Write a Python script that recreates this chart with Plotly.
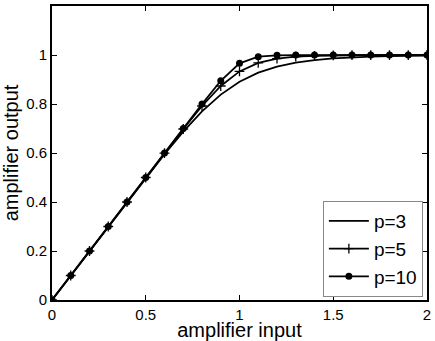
import plotly.graph_objects as go

x_input = [0.0, 0.1, 0.2, 0.3, 0.4, 0.5, 0.6, 0.7, 0.8, 0.9, 1.0,
           1.1, 1.2, 1.3, 1.4, 1.5, 1.6, 1.7, 1.8, 1.9, 2.0]
y_p3 = [0.0, 0.1, 0.2, 0.3, 0.3997, 0.4987, 0.5955, 0.6871, 0.7696, 0.8383, 0.8909,
        0.9281, 0.953, 0.9691, 0.9794, 0.9861, 0.9904, 0.9932, 0.9952, 0.9965, 0.9974]
y_p5 = [0.0, 0.1, 0.2, 0.3, 0.4, 0.5, 0.5996, 0.698, 0.7919, 0.8735, 0.933,
        0.9679, 0.9851, 0.993, 0.9966, 0.9983, 0.9991, 0.9995, 0.9997, 0.9998, 0.9999]
y_p10 = [0.0, 0.1, 0.2, 0.3, 0.4, 0.5, 0.6, 0.7, 0.7995, 0.8949, 0.9659,
         0.9931, 0.9987, 0.9997, 0.9999, 1.0, 1.0, 1.0, 1.0, 1.0, 1.0]
series_names = ["p=3", "p=5", "p=10"]
x_ticks = [0, 0.5, 1, 1.5, 2]
x_ticklabels = ["0", "0.5", "1", "1.5", "2"]
y_ticks = [0, 0.2, 0.4, 0.6, 0.8, 1]
y_ticklabels = ["0", "0.2", "0.4", "0.6", "0.8", "1"]

FONT = "Liberation Sans, Arial, sans-serif"

fig = go.Figure()
fig.add_trace(go.Scatter(x=x_input, y=y_p3, name=series_names[0], mode="lines",
                         line=dict(color="black", width=1.8)))
fig.add_trace(go.Scatter(x=x_input, y=y_p5, name=series_names[1], mode="lines+markers",
                         line=dict(color="black", width=1.8),
                         marker=dict(symbol="cross-thin", size=7,
                                     line=dict(color="black", width=1.3))))
fig.add_trace(go.Scatter(x=x_input, y=y_p10, name=series_names[2], mode="lines+markers",
                         line=dict(color="black", width=1.8),
                         marker=dict(symbol="circle", size=7, color="black")))

axis_common = dict(showline=True, linecolor="black", linewidth=1.8, mirror="ticks",
                   ticks="inside", ticklen=5, tickwidth=1.2, tickcolor="black",
                   showgrid=False, zeroline=False,
                   tickfont=dict(family=FONT, size=15, color="black"))

fig.update_xaxes(range=[0, 2], tickvals=x_ticks, ticktext=x_ticklabels,
                 title=dict(text="amplifier input", font=dict(family=FONT, size=20, color="black"),
                            standoff=0),
                 **axis_common)
fig.update_yaxes(range=[0, 1.2], tickvals=y_ticks, ticktext=y_ticklabels,
                 title=dict(text="amplifier output", font=dict(family=FONT, size=20, color="black"),
                            standoff=4),
                 **axis_common)

fig.update_layout(
    width=435, height=341,
    margin=dict(l=52, r=4, t=4, b=41),
    plot_bgcolor="white", paper_bgcolor="white",
    font=dict(family=FONT, color="black"),
    legend=dict(x=0.989, y=0.01, xanchor="right", yanchor="bottom",
                bgcolor="white", bordercolor="#888888", borderwidth=1,
                font=dict(family=FONT, size=19, color="black"),
                tracegroupgap=0, itemwidth=40),
)

fig.write_html("out.html")
